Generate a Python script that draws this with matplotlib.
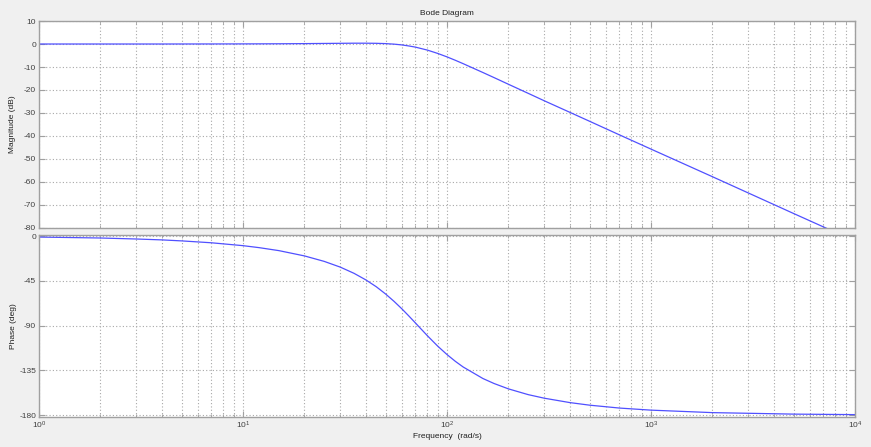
import numpy as np
import matplotlib.pyplot as plt
from matplotlib.ticker import LogLocator, NullFormatter, FixedLocator

# values
freq = [1, 2, 3, 4, 5, 7, 10, 12, 15, 20, 25, 30, 35, 40, 45, 50, 55, 60, 65,
        70, 80, 90, 100, 110, 120, 150, 170, 200, 250, 300, 400, 500, 700,
        1000, 2000, 5000, 10000]
mag_db = [0.0, 0.0, 0.0, 0.0, 0.01, 0.02, 0.05, 0.07, 0.1, 0.17, 0.24, 0.3,
          0.35, 0.35, 0.3, 0.17, -0.06, -0.39, -0.85, -1.35, -2.63, -4.09,
          -5.6, -7.1, -8.55, -12.4, -14.6, -17.5, -21.45, -24.7, -29.7, -33.6,
          -39.5, -45.7, -57.7, -73.7, -85.7]
phase_deg = [-0.95, -1.9, -2.9, -3.8, -4.8, -6.7, -9.6, -11.6, -14.6, -19.9,
             -25.4, -31.2, -37.4, -44.0, -50.9, -58.2, -65.6, -73.0, -80.3,
             -87.3, -100.0, -110.6, -119.1, -126.0, -131.6, -143.2, -148.2,
             -153.6, -159.4, -163.0, -167.4, -170.0, -172.9, -175.0, -177.5,
             -179.0, -179.5]

mag_ticks = [10, 0, -10, -20, -30, -40, -50, -60, -70, -80]
phase_ticks = [0, -45, -90, -135, -180]

bg = '#f0f0f0'
frame = '#a0a0a0'
text_col = '#404040'
line_col = '#5050ff'

plt.rcParams['font.family'] = ['Liberation Sans', 'DejaVu Sans']
plt.rcParams['font.size'] = 6
plt.rcParams['axes.unicode_minus'] = False

fig = plt.figure(figsize=(8.71, 4.47), dpi=100, facecolor=bg)
ax1 = fig.add_axes([0.0448, 0.490, 0.9368, 0.463])
ax2 = fig.add_axes([0.0448, 0.068, 0.9368, 0.406])


def style(ax):
    ax.set_xscale('log')
    ax.set_xlim(1, 1e4)
    ax.xaxis.set_major_locator(LogLocator(base=10, numticks=10))
    ax.xaxis.set_minor_locator(LogLocator(base=10, subs=np.arange(2, 10), numticks=20))
    ax.xaxis.set_minor_formatter(NullFormatter())
    ax.grid(True, which='major', color='#a8a8a8', linestyle=(0, (1, 2)), linewidth=0.8)
    ax.grid(True, which='minor', axis='x', color='#a8a8a8', linestyle=(0, (1, 2)), linewidth=0.8)
    ax.tick_params(which='both', direction='in', top=True, right=True,
                   colors=frame, labelcolor=text_col, labelsize=6, pad=2)
    ax.tick_params(which='major', length=4)
    ax.tick_params(which='minor', length=2)
    for s in ax.spines.values():
        s.set_color(frame)
        s.set_linewidth(1.0)


ax1.plot(freq, mag_db, color=line_col, linewidth=0.9)
style(ax1)
ax1.set_ylim(-80, 10)
ax1.yaxis.set_major_locator(FixedLocator(mag_ticks))
ax1.tick_params(axis='x', labelbottom=False)
ax1.set_ylabel('Magnitude (dB)', color='#202020', fontsize=6, labelpad=6)
ax1.set_title('Bode Diagram', color='#202020', fontsize=6, pad=4)

ax2.plot(freq, phase_deg, color=line_col, linewidth=0.9)
style(ax2)
ax2.set_ylim(-181.5, 1)
ax2.yaxis.set_major_locator(FixedLocator(phase_ticks))
ax2.set_ylabel('Phase (deg)', color='#202020', fontsize=6, labelpad=2)
ax2.set_xlabel('Frequency  (rad/s)', color='#202020', fontsize=6, labelpad=2)

fig.savefig('out.png', dpi=100, facecolor=bg)
